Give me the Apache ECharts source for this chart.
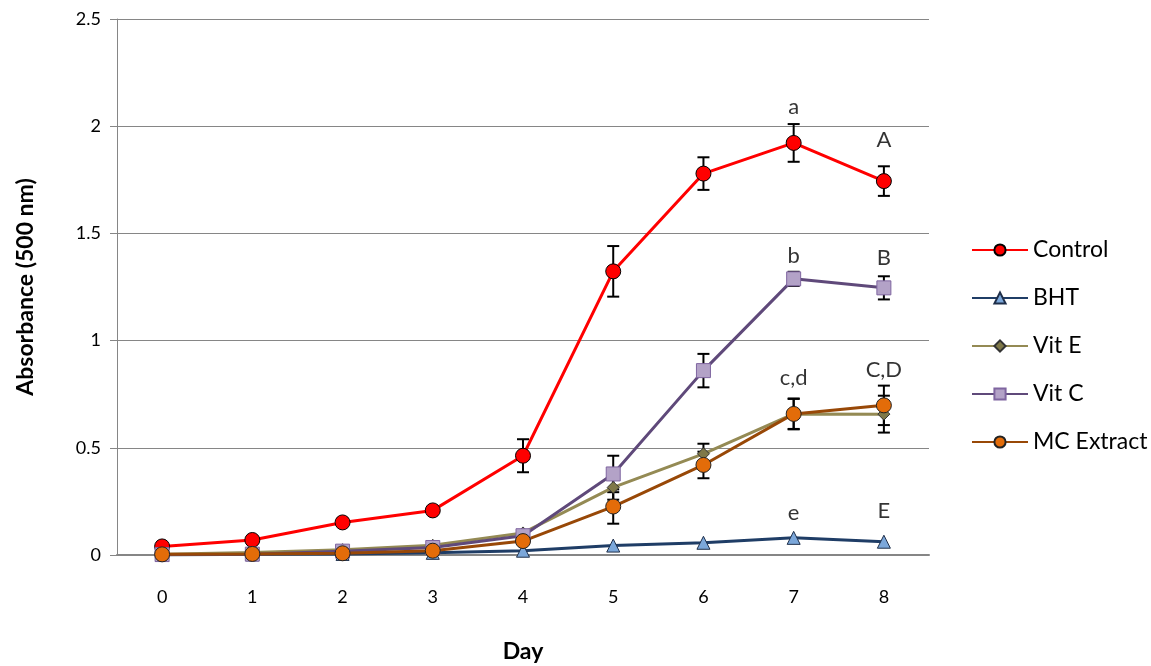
<!DOCTYPE html>
<html>
<head>
<meta charset="utf-8">
<script src="https://cdn.jsdelivr.net/npm/echarts@6/dist/echarts.min.js"></script>
<style>
html,body{margin:0;padding:0;background:#fff;}
#c{width:1151px;height:666px;}
</style>
</head>
<body>
<div id="c"></div>
<script>
var days = ['0','1','2','3','4','5','6','7','8'];
var yTicks = [0, 0.5, 1, 1.5, 2, 2.5];

var control    = [0.04, 0.07, 0.152, 0.208, 0.463, 1.323, 1.779, 1.922, 1.744];
var bht        = [0.0, 0.003, 0.005, 0.01, 0.02, 0.044, 0.057, 0.08, 0.062];
var vitE       = [0.003, 0.012, 0.025, 0.045, 0.103, 0.315, 0.472, 0.658, 0.657];
var vitC       = [0.002, 0.004, 0.018, 0.035, 0.09, 0.378, 0.86, 1.288, 1.246];
var mcExtract  = [0.003, 0.005, 0.008, 0.02, 0.065, 0.226, 0.42, 0.658, 0.698];

var controlErr = [0, 0, 0, 0, 0.077, 0.118, 0.076, 0.088, 0.069];
var bhtErr     = [0, 0, 0, 0, 0, 0, 0, 0, 0];
var vitEErr    = [0, 0, 0, 0, 0.01, 0.057, 0.047, 0.07, 0.086];
var vitCErr    = [0, 0, 0, 0, 0.015, 0.085, 0.078, 0.033, 0.054];
var mcErr      = [0, 0, 0, 0, 0.01, 0.08, 0.062, 0.072, 0.092];

var letterText = ['a', 'A', 'b', 'B', 'c,d', 'C,D', 'e', 'E'];
var letterDay  = [7, 8, 7, 8, 7, 8, 7, 8];
var letterY    = [2.089, 1.935, 1.397, 1.388, 0.827, 0.864, 0.196, 0.206];

var FONT = 'Lato, "Noto Sans", sans-serif';

function errData(vals, errs){
  var out = [];
  for (var i = 0; i < vals.length; i++) {
    if (errs[i] > 0) out.push([i, vals[i] - errs[i], vals[i] + errs[i]]);
  }
  return out;
}
function errSeries(vals, errs){
  return {
    type: 'custom',
    silent: true,
    z: 1,
    encode: {x: 0, y: [1, 2]},
    data: errData(vals, errs),
    renderItem: function(params, api){
      var x = api.value(0);
      var lo = api.coord([x, api.value(1)]);
      var hi = api.coord([x, api.value(2)]);
      var hw = 6;
      var st = {stroke: '#000', lineWidth: 2};
      return {
        type: 'group',
        children: [
          {type: 'line', shape: {x1: lo[0], y1: lo[1], x2: hi[0], y2: hi[1]}, style: st},
          {type: 'line', shape: {x1: lo[0]-hw, y1: lo[1], x2: lo[0]+hw, y2: lo[1]}, style: st},
          {type: 'line', shape: {x1: hi[0]-hw, y1: hi[1], x2: hi[0]+hw, y2: hi[1]}, style: st}
        ]
      };
    }
  };
}
function lineSeries(name, data, lineColor, symbol, size, fill, border){
  return {
    name: name,
    type: 'line',
    data: data,
    z: 3,
    symbol: symbol,
    symbolSize: size,
    showAllSymbol: true,
    lineStyle: {color: lineColor, width: 3},
    itemStyle: {color: fill, borderColor: border, borderWidth: 1},
    emphasis: {disabled: true},
    animation: false
  };
}

var letters = [];
for (var i = 0; i < letterText.length; i++) letters.push([letterDay[i], letterY[i], letterText[i]]);

var chart = echarts.init(document.getElementById('c'), null, {renderer: 'canvas'});
chart.setOption({
  animation: false,
  backgroundColor: '#fff',
  textStyle: {fontFamily: FONT},
  grid: {left: 117, right: 222, top: 19, bottom: 111, containLabel: false, outerBoundsMode: 'none'},
  legend: {
    orient: 'vertical',
    left: 966,
    top: 233,
    itemWidth: 56,
    itemHeight: 14,
    itemGap: 24,
    textStyle: {fontFamily: FONT, fontSize: 23, lineHeight: 24, color: '#000'},
    data: ['Control', 'BHT', 'Vit E', 'Vit C', 'MC Extract']
  },
  xAxis: {
    type: 'category',
    data: days,
    boundaryGap: true,
    name: 'Day',
    nameLocation: 'middle',
    nameGap: 85,
    nameTextStyle: {fontFamily: FONT, fontSize: 23, fontWeight: 'bold', color: '#000'},
    axisLine: {lineStyle: {color: '#868686', width: 2}},
    axisTick: {show: false},
    axisLabel: {fontFamily: FONT, fontSize: 18, color: '#000', margin: 33}
  },
  yAxis: {
    type: 'value',
    min: yTicks[0],
    max: yTicks[yTicks.length - 1],
    interval: 0.5,
    name: 'Absorbance (500 nm)',
    nameLocation: 'middle',
    nameGap: 80,
    nameRotate: 90,
    nameTextStyle: {fontFamily: FONT, fontSize: 23, fontWeight: 'bold', color: '#000'},
    axisLine: {show: true, lineStyle: {color: '#868686', width: 1}},
    axisTick: {show: true, length: 7, lineStyle: {color: '#868686'}},
    axisLabel: {fontFamily: FONT, fontSize: 18, color: '#000', margin: 16,
      formatter: function(v){ return String(v); }},
    splitLine: {lineStyle: {color: '#868686', width: 1}}
  },
  series: [
    errSeries(control, controlErr),
    errSeries(vitE, vitEErr),
    errSeries(vitC, vitCErr),
    errSeries(mcExtract, mcErr),
    errSeries(bht, bhtErr),
    lineSeries('Control', control, '#FF0000', 'circle', 15, '#FF0000', '#000'),
    lineSeries('BHT', bht, '#1F3D66', 'triangle', 13, '#7BA7DA', '#1F2F4A'),
    lineSeries('Vit E', vitE, '#948A54', 'diamond', 12, '#7F7848', '#333'),
    lineSeries('Vit C', vitC, '#5F497A', 'rect', 14, '#B3A2C7', '#7F65A0'),
    lineSeries('MC Extract', mcExtract, '#984807', 'circle', 15, '#E36C09', '#222'),
    {
      type: 'scatter',
      silent: true,
      z: 5,
      symbolSize: 0,
      data: letters,
      label: {
        show: true,
        position: 'inside',
        fontFamily: FONT,
        fontSize: 22,
        color: '#000',
        formatter: function(p){ return p.value[2]; }
      }
    }
  ]
});
</script>
</body>
</html>
